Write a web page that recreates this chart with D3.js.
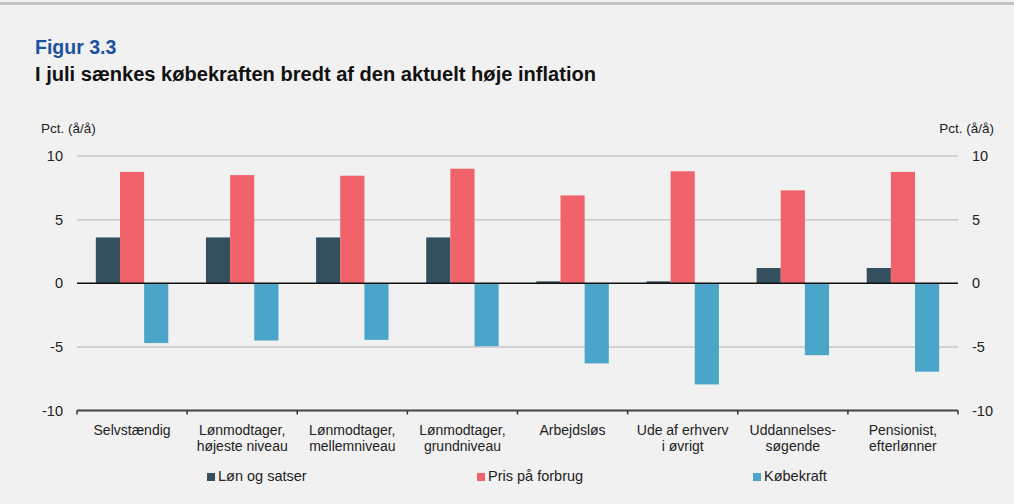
<!DOCTYPE html>
<html>
<head>
<meta charset="utf-8">
<script src="https://cdn.jsdelivr.net/npm/d3@7"></script>
<style>
  body { margin: 0; background: #f1f1f1; }
  svg { display: block; font-family: "Liberation Sans", Arial, sans-serif; }
</style>
</head>
<body>
<svg id="chart" width="1014" height="504"></svg>
<script>
// data
const categories = [
  ["Selvstændig"],
  ["Lønmodtager,", "højeste niveau"],
  ["Lønmodtager,", "mellemniveau"],
  ["Lønmodtager,", "grundniveau"],
  ["Arbejdsløs"],
  ["Ude af erhverv", "i øvrigt"],
  ["Uddannelses-", "søgende"],
  ["Pensionist,", "efterlønner"]
];
const seriesNames = ["Løn og satser", "Pris på forbrug", "Købekraft"];
const lon = [3.6, 3.6, 3.6, 3.6, 0.15, 0.15, 1.2, 1.2];
const pris = [8.75, 8.5, 8.45, 9.0, 6.9, 8.8, 7.3, 8.75];
const kob = [-4.7, -4.5, -4.45, -4.95, -6.3, -7.95, -5.65, -6.95];
const yTicks = [-10, -5, 0, 5, 10];
const colors = ["#34505f", "#f0636b", "#4aa5c8"];

const margin = { top: 156, right: 56, bottom: 94, left: 77 };
const width = 1014, height = 504;

const svg = d3.select("#chart");

// top border line
svg.append("rect").attr("x", 0).attr("y", 2).attr("width", width).attr("height", 3).attr("fill", "#c4c4c4");

// titles
svg.append("text").attr("x", 35).attr("y", 54).attr("fill", "#1d519f")
  .attr("font-weight", "bold").attr("font-size", 19.5).text("Figur 3.3");
svg.append("text").attr("x", 35).attr("y", 81).attr("fill", "#111")
  .attr("font-weight", "bold").attr("font-size", 19.5)
  .attr("textLength", 561).attr("lengthAdjust", "spacingAndGlyphs")
  .text("I juli sænkes købekraften bredt af den aktuelt høje inflation");

svg.append("text").attr("x", 41).attr("y", 133).attr("font-size", 13.5).attr("fill", "#222").text("Pct. (å/å)");
svg.append("text").attr("x", 994).attr("y", 133).attr("text-anchor", "end").attr("font-size", 13.5).attr("fill", "#222").text("Pct. (å/å)");

const x0 = d3.scaleBand()
  .domain(d3.range(categories.length))
  .range([margin.left, width - margin.right]);
const x1 = d3.scaleBand()
  .domain(d3.range(seriesNames.length))
  .range([0, x0.bandwidth()])
  .paddingOuter(0.78)
  .paddingInner(0);

const y = d3.scaleLinear().domain([-10, 10]).range([height - margin.bottom + 0.5, margin.top]);

// gridlines
svg.append("g").selectAll("line")
  .data(yTicks.filter(d => d !== 0 && d !== -10))
  .join("line")
  .attr("x1", margin.left).attr("x2", width - margin.right)
  .attr("y1", d => y(d)).attr("y2", d => y(d))
  .attr("stroke", "#c8c8c8").attr("stroke-width", 1.5);

// y axis labels left and right
const fmt = d => String(d);
const yAxisL = d3.axisLeft(y).tickValues(yTicks).tickFormat(fmt).tickSize(0).tickPadding(14);
const yAxisR = d3.axisRight(y).tickValues(yTicks).tickFormat(fmt).tickSize(0).tickPadding(14);
svg.append("g").attr("transform", `translate(${margin.left},0)`).call(yAxisL)
  .call(g => g.select(".domain").remove())
  .call(g => g.selectAll("text").attr("font-size", 14.5).attr("fill", "#222").attr("font-family", "Liberation Sans, Arial, sans-serif"));
svg.append("g").attr("transform", `translate(${width - margin.right},0)`).call(yAxisR)
  .call(g => g.select(".domain").remove())
  .call(g => g.selectAll("text").attr("font-size", 14.5).attr("fill", "#222").attr("font-family", "Liberation Sans, Arial, sans-serif"));

// bars
const rows = categories.map((c, i) => [lon[i], pris[i], kob[i]]);
const groups = svg.append("g").selectAll("g")
  .data(rows)
  .join("g")
  .attr("transform", (d, i) => `translate(${x0(i)},0)`);
groups.selectAll("rect")
  .data(d => d.map((v, k) => ({ v, k })))
  .join("rect")
  .attr("x", d => x1(d.k))
  .attr("width", x1.bandwidth())
  .attr("y", d => Math.min(y(d.v), y(0)))
  .attr("height", d => Math.abs(y(d.v) - y(0)))
  .attr("fill", d => colors[d.k]);

// zero line
svg.append("line")
  .attr("x1", margin.left).attr("x2", width - margin.right)
  .attr("y1", y(0)).attr("y2", y(0))
  .attr("stroke", "#111").attr("stroke-width", 1.5);

// bottom axis with ticks between categories
const axisY = y(-10);
svg.append("line")
  .attr("x1", margin.left).attr("x2", width - margin.right)
  .attr("y1", axisY).attr("y2", axisY)
  .attr("stroke", "#444").attr("stroke-width", 2);
const bounds = d3.range(categories.length + 1).map(i => margin.left + i * x0.step());
svg.append("g").selectAll("line")
  .data(bounds)
  .join("line")
  .attr("x1", d => d).attr("x2", d => d)
  .attr("y1", axisY).attr("y2", axisY + 4)
  .attr("stroke", "#333").attr("stroke-width", 1.5);

// category labels
svg.append("g").selectAll("text")
  .data(categories)
  .join("text")
  .attr("x", (d, i) => x0(i) + x0.bandwidth() / 2)
  .attr("y", axisY + 24)
  .attr("text-anchor", "middle")
  .attr("font-size", 14).attr("fill", "#222")
  .selectAll("tspan")
  .data(d => d)
  .join("tspan")
  .attr("x", function () { return d3.select(this.parentNode).attr("x"); })
  .attr("dy", (d, j) => j === 0 ? 0 : 16)
  .text(d => d);

// legend
const legendX = [207, 477, 753];
const legend = svg.append("g").selectAll("g")
  .data(seriesNames)
  .join("g")
  .attr("transform", (d, i) => `translate(${legendX[i]},481)`);
legend.append("rect").attr("x", 0).attr("y", -8).attr("width", 8).attr("height", 8)
  .attr("fill", (d, i) => colors[i]);
legend.append("text").attr("x", 11).attr("y", 0).attr("font-size", 14.5).attr("fill", "#222").text(d => d);
</script>
</body>
</html>
